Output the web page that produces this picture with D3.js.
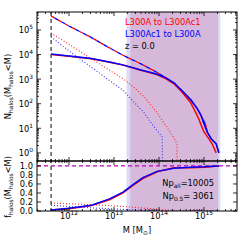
<!DOCTYPE html>
<html><head><meta charset="utf-8">
<script src="https://cdn.jsdelivr.net/npm/d3@7"></script>
<style>body{margin:0;background:#fff}svg{display:block}text{font-family:"DejaVu Sans",sans-serif}</style>
</head><body>
<svg id="c" width="249" height="249"></svg>
<script>
// ---- data (log10 of mass in Msun) ----
const massCut = 4e11;
const bandRed = [2.3e13, 2.05e15];
const bandBlue = [1.9e13, 2.3e15];

const allLogM  = [11.6, 12.0, 12.5, 12.9, 13.2, 13.6, 13.95, 14.15, 14.33, 14.5, 14.71, 14.85, 14.93, 15.04, 15.07, 15.16, 15.27, 15.33];
const allLogN  = [5.57, 5.16, 4.69, 4.27, 3.97, 3.62, 3.28, 3.06, 2.85, 2.55, 2.15, 1.8, 1.54, 1.14, 0.85, 0.57, 0.37, 0.0];

const blueSolidLogM = [11.6, 12.0, 12.5, 12.9, 13.2, 13.6, 13.95, 14.15, 14.33, 14.5, 14.71, 14.85, 14.93, 15.0, 15.07, 15.16, 15.27, 15.33];
const blueSolidLogN = [4.02, 3.94, 3.84, 3.70, 3.58, 3.37, 3.21, 3.05, 2.85, 2.55, 2.15, 1.8, 1.54, 1.18, 0.85, 0.57, 0.37, 0.0];
const redSolidLogM  = [11.6, 12.0, 12.5, 12.9, 13.2, 13.6, 13.95, 14.15, 14.33, 14.5, 14.7, 14.8, 14.88, 14.93, 15.0, 15.11, 15.18, 15.27];
const redSolidLogN  = [4.0, 3.93, 3.83, 3.69, 3.57, 3.36, 3.19, 3.02, 2.81, 2.5, 2.05, 1.7, 1.4, 1.16, 0.85, 0.57, 0.37, 0.0];

const redDotLogM  = [11.6, 12.02, 12.47, 12.91, 13.22, 13.45, 13.67, 13.96, 14.11, 14.29, 14.4, 14.4];
const redDotLogN  = [4.88, 4.39, 3.86, 3.35, 2.99, 2.65, 2.28, 1.63, 1.22, 0.73, 0.37, -2];
const blueDotLogM = [11.6, 12.02, 12.47, 12.91, 13.22, 13.44, 13.67, 13.84, 14.07, 14.09];
const blueDotLogN = [4.72, 4.12, 3.52, 2.93, 2.52, 2.07, 1.63, 1.18, 0.65, -2];

const fLogM = [11.6, 12.0, 12.5, 12.9, 13.2, 13.4, 13.64, 13.96, 14.33, 14.7, 15.0, 15.33];
const fBlueSolid = [0.02, 0.06, 0.13, 0.27, 0.42, 0.57, 0.74, 0.88, 0.95, 0.97, 0.98, 1.0];
const fRedSolid  = [0.02, 0.05, 0.12, 0.25, 0.40, 0.55, 0.72, 0.87, 0.96, 0.96, 0.97, 1.0];
const fDotLogM = [11.6, 12.0, 12.5, 12.9, 13.2, 13.6, 13.96, 14.1, 14.3, 14.4, 15.33];
const fRedDot  = [0.18, 0.16, 0.14, 0.12, 0.10, 0.07, 0.04, 0.03, 0.015, 0.0, 0.0];
const fBlueDot = [0.13, 0.10, 0.07, 0.05, 0.035, 0.02, 0.01, 0.0, 0.0, 0.0, 0.0];

const xTickExp = [12, 13, 14, 15];
const yTopTickExp = [0, 1, 2, 3, 4, 5];
const yBotTicks = [0.0, 0.2, 0.4, 0.6, 0.8, 1.0];

// ---- layout ----
const L = 37, R = 237, T = 12, MID = 161, B = 211;
const svg = d3.select("#c");
const x = d3.scaleLog().domain([Math.pow(10, 11.289), Math.pow(10, 15.733)]).range([L, R]);
const yT = d3.scaleLog().domain([Math.pow(10, -0.33), Math.pow(10, 5.73)]).range([MID, T]);
const yB = d3.scaleLinear().domain([0, 1.11]).range([B, MID]);

svg.append("clipPath").attr("id", "ct").append("rect").attr("x", L).attr("y", T).attr("width", R - L).attr("height", MID - T);
svg.append("clipPath").attr("id", "cb").append("rect").attr("x", L).attr("y", MID).attr("width", R - L).attr("height", B - MID);

// bands
svg.append("rect").attr("x", x(bandBlue[0])).attr("y", T).attr("width", x(bandBlue[1]) - x(bandBlue[0])).attr("height", B - T).attr("fill", "#dadaf8");
svg.append("rect").attr("x", x(bandRed[0])).attr("y", T).attr("width", x(bandRed[1]) - x(bandRed[0])).attr("height", B - T).attr("fill", "#d6b9da");

const gT = svg.append("g").attr("clip-path", "url(#ct)");
const gB = svg.append("g").attr("clip-path", "url(#cb)");

function lineTop(lm, ln) {
  return d3.line().x((d, i) => x(Math.pow(10, lm[i]))).y((d, i) => yT(Math.pow(10, ln[i])))(lm);
}
function lineBot(lm, f) {
  return d3.line().x((d, i) => x(Math.pow(10, lm[i]))).y((d, i) => yB(f[i]))(lm);
}

// top panel
gT.append("path").attr("d", lineTop(redDotLogM, redDotLogN)).attr("fill", "none").attr("stroke", "#ff2020").attr("stroke-width", 1.1).attr("stroke-dasharray", "1,2");
gT.append("path").attr("d", lineTop(blueDotLogM, blueDotLogN)).attr("fill", "none").attr("stroke", "#3030ff").attr("stroke-width", 1.1).attr("stroke-dasharray", "1,2");
gT.append("path").attr("d", lineTop(allLogM, allLogN)).attr("fill", "none").attr("stroke", "red").attr("stroke-width", 1.3).attr("stroke-dasharray", "4,4");
gT.append("path").attr("d", lineTop(allLogM, allLogN)).attr("fill", "none").attr("stroke", "blue").attr("stroke-width", 1.3).attr("stroke-dasharray", "4,4").attr("stroke-dashoffset", 4);
gT.append("path").attr("d", lineTop(redSolidLogM, redSolidLogN)).attr("fill", "none").attr("stroke", "red").attr("stroke-width", 1.5);
gT.append("path").attr("d", lineTop(blueSolidLogM, blueSolidLogN)).attr("fill", "none").attr("stroke", "blue").attr("stroke-width", 1.5);

// bottom panel
gB.append("line").attr("x1", L).attr("x2", R).attr("y1", yB(1)).attr("y2", yB(1)).attr("stroke", "#c000c0").attr("stroke-width", 1.2).attr("stroke-dasharray", "4,3");
gB.append("path").attr("d", lineBot(fDotLogM, fRedDot)).attr("fill", "none").attr("stroke", "#ff2020").attr("stroke-width", 1.1).attr("stroke-dasharray", "1,2");
gB.append("path").attr("d", lineBot(fDotLogM, fBlueDot)).attr("fill", "none").attr("stroke", "#3030ff").attr("stroke-width", 1.1).attr("stroke-dasharray", "1,2");
gB.append("path").attr("d", lineBot(fLogM, fRedSolid)).attr("fill", "none").attr("stroke", "red").attr("stroke-width", 1.5);
gB.append("path").attr("d", lineBot(fLogM, fBlueSolid)).attr("fill", "none").attr("stroke", "blue").attr("stroke-width", 1.5);

// vertical mass cut
svg.append("line").attr("x1", x(massCut)).attr("x2", x(massCut)).attr("y1", T).attr("y2", B).attr("stroke", "#404040").attr("stroke-width", 1.3).attr("stroke-dasharray", "4,3");

// frames
svg.append("rect").attr("x", L).attr("y", T).attr("width", R - L).attr("height", MID - T).attr("fill", "none").attr("stroke", "#000").attr("stroke-width", 1);
svg.append("rect").attr("x", L).attr("y", MID).attr("width", R - L).attr("height", B - MID).attr("fill", "none").attr("stroke", "#000").attr("stroke-width", 1);

// ticks
const tk = svg.append("g").attr("stroke", "#000").attr("stroke-width", 0.8);
function xTicks(yEdge, dir) {
  for (let e = 11; e <= 15; e++) {
    for (let m = 1; m <= 9; m++) {
      const v = m * Math.pow(10, e);
      const px = x(v);
      if (px < L || px > R) continue;
      const len = m === 1 ? 4 : 2;
      tk.append("line").attr("x1", px).attr("x2", px).attr("y1", yEdge).attr("y2", yEdge + dir * len);
    }
  }
}
xTicks(T, 1); xTicks(MID, -1); xTicks(MID, 1); xTicks(B, -1);
for (let e = -1; e <= 5; e++) {
  for (let m = 1; m <= 9; m++) {
    const v = m * Math.pow(10, e);
    const py = yT(v);
    if (py < T || py > MID) continue;
    const len = m === 1 ? 4 : 2;
    tk.append("line").attr("x1", L).attr("x2", L + len).attr("y1", py).attr("y2", py);
    tk.append("line").attr("x1", R).attr("x2", R - len).attr("y1", py).attr("y2", py);
  }
}
yBotTicks.forEach(v => {
  const py = yB(v);
  tk.append("line").attr("x1", L).attr("x2", L + 4).attr("y1", py).attr("y2", py);
  tk.append("line").attr("x1", R).attr("x2", R - 4).attr("y1", py).attr("y2", py);
});

// tick labels
const FS = 8.3, SUP = 5.9;
xTickExp.forEach(e => {
  const t = svg.append("text").attr("x", x(Math.pow(10, e))).attr("y", 219).attr("text-anchor", "middle").attr("font-size", FS).attr("fill", "#000");
  t.append("tspan").text("10");
  t.append("tspan").attr("font-size", SUP).attr("dy", -4).text(e);
});
yTopTickExp.forEach(e => {
  const t = svg.append("text").attr("x", 33).attr("y", yT(Math.pow(10, e)) + 3.5).attr("text-anchor", "end").attr("font-size", FS).attr("fill", "#000");
  t.append("tspan").text("10");
  t.append("tspan").attr("font-size", SUP).attr("dy", -4).text(e);
});
yBotTicks.forEach(v => {
  svg.append("text").attr("x", 33).attr("y", yB(v) + 3).attr("text-anchor", "end").attr("font-size", FS).text(v.toFixed(1));
});

// axis labels
function subLabel(parent, parts) {
  parts.forEach(p => {
    if (p.sub) parent.append("tspan").attr("font-size", SUP).attr("dy", 1.8).text(p.t);
    else parent.append("tspan").attr("dy", p.up ? -1.8 : 0).text(p.t);
  });
}
const yl1 = svg.append("text").attr("transform", `translate(11,${(T + MID) / 2}) rotate(-90)`).attr("text-anchor", "middle").attr("font-size", FS);
subLabel(yl1, [{t: "N"}, {t: "halos", sub: true}, {t: "(M", up: true}, {t: "halos", sub: true}, {t: "<M)", up: true}]);
const yl2 = svg.append("text").attr("transform", `translate(11,${(MID + B) / 2 + 1}) rotate(-90)`).attr("text-anchor", "middle").attr("font-size", FS);
subLabel(yl2, [{t: "f"}, {t: "halos", sub: true}, {t: "(M", up: true}, {t: "halos", sub: true}, {t: "<M)", up: true}]);
const xl = svg.append("text").attr("x", (L + R) / 2).attr("y", 233).attr("text-anchor", "middle").attr("font-size", FS);
subLabel(xl, [{t: "M [M"}, {t: "\u2299", sub: true}, {t: "]", up: true}]);

// annotations
svg.append("text").attr("x", 125).attr("y", 25).attr("font-size", FS).attr("fill", "red").text("L300A to L300Ac1");
svg.append("text").attr("x", 125).attr("y", 37).attr("font-size", FS).attr("fill", "blue").text("L300Ac1 to L300A");
svg.append("text").attr("x", 125).attr("y", 49).attr("font-size", FS).attr("fill", "#000").text("z = 0.0");
const n1 = svg.append("text").attr("x", 214).attr("y", 186).attr("text-anchor", "end").attr("font-size", FS);
subLabel(n1, [{t: "Np"}, {t: "all", sub: true}, {t: "=10005", up: true}]);
const n2 = svg.append("text").attr("x", 214).attr("y", 199).attr("text-anchor", "end").attr("font-size", FS);
subLabel(n2, [{t: "Np"}, {t: "0.5", sub: true}, {t: "= 3061", up: true}]);
</script>
</body></html>
